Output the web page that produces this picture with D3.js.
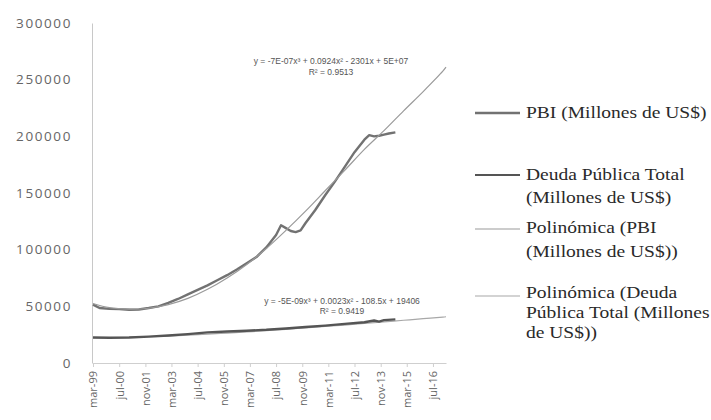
<!DOCTYPE html>
<html>
<head>
<meta charset="utf-8">
<script src="https://cdn.jsdelivr.net/npm/d3@7"></script>
<style>
  html, body { margin: 0; padding: 0; background: #fff; }
  svg { display: block; }
</style>
</head>
<body>
<svg id="chart" width="711" height="420"></svg>
<script>
// PBI and public debt, millions of US$ (sampled months)
const pbiDates = ["1999-03","1999-07","2000-01","2000-07","2001-01","2001-07","2002-01","2002-07",
  "2003-01","2003-07","2004-01","2004-07","2005-01","2005-07","2006-01","2006-07","2007-01","2007-07",
  "2008-01","2008-07","2008-10","2009-01","2009-04","2009-07","2009-10","2010-01","2010-07","2011-01",
  "2011-07","2012-01","2012-07","2013-01","2013-04","2013-07","2013-10","2014-01","2014-04","2014-08"];
const pbiValues = [51500,48500,47800,47500,47000,47200,48500,50000,
  53000,56500,60500,64500,68500,73000,77500,82500,88000,93500,
  102000,113000,121500,119000,116500,115500,117000,123500,135000,148000,
  160000,173000,186000,197000,201000,200000,200500,201500,202500,203500];

const debtDates = ["1999-03","2000-01","2001-01","2002-01","2003-01","2004-01","2005-01","2006-01",
  "2007-01","2008-01","2009-01","2010-01","2011-01","2012-01","2013-01","2013-07","2013-10","2014-01","2014-08"];
const debtValues = [22500,22300,22500,23300,24300,25500,27000,27800,
  28500,29300,30500,31800,33000,34500,36000,37500,36500,37800,38500];

// Polynomial trend curves, extended forward to 2017
const trendDates = ["1999-03","2000-01","2001-01","2002-01","2003-01","2004-01","2005-01","2006-01",
  "2007-01","2008-01","2009-01","2010-01","2011-01","2012-01","2013-01","2014-01","2015-01","2016-01",
  "2017-01","2017-03"];
const pbiTrend = [52500,48800,47500,48300,51500,57000,65000,75000,
  87000,101000,117000,134000,152000,170000,188500,205000,222500,239500,
  257500,261000];
const debtTrend = [22300,22400,22700,23200,23800,24600,25400,26400,
  27400,28500,29700,30900,32200,33500,34900,36300,37700,39100,
  40500,40800];

const xTickLabels = ["mar-99","jul-00","nov-01","mar-03","jul-04","nov-05","mar-07","jul-08",
  "nov-09","mar-11","jul-12","nov-13","mar-15","jul-16"];
const yTickValues = [0,50000,100000,150000,200000,250000,300000];

const legendItems = [
  ["PBI (Millones de US$)"],
  ["Deuda Pública Total","(Millones de US$)"],
  ["Polinómica (PBI","(Millones de US$))"],
  ["Polinómica (Deuda","Pública Total (Millones","de US$))"]
];
const pbiEquation = ["y = -7E-07x³ + 0.0924x² - 2301x + 5E+07", "R² = 0.9513"];
const debtEquation = ["y = -5E-09x³ + 0.0023x² - 108.5x + 19406", "R² = 0.9419"];

const months = ["ene","feb","mar","abr","may","jun","jul","ago","sep","oct","nov","dic"];
const parseYM = s => { const [y, m] = s.split("-").map(Number); return new Date(y, m - 1, 1); };
const parseLabel = s => { const [mo, yy] = s.split("-"); return new Date(2000 + (+yy > 50 ? +yy - 100 : +yy), months.indexOf(mo), 1); };

const svg = d3.select("#chart");

const x = d3.scaleTime()
  .domain([new Date(1999, 2, 1), new Date(2017, 2, 1)])
  .range([93, 446]);
const y = d3.scaleLinear().domain([0, 300000]).range([363, 23]);

// Y axis
const yAxis = svg.append("g")
  .attr("transform", "translate(92,0)")
  .call(d3.axisLeft(y).tickValues(yTickValues).tickSize(0).tickPadding(20).tickFormat(d3.format("d")));
yAxis.select(".domain").attr("stroke", "#c8c8c8");
yAxis.selectAll("text")
  .attr("font-family", "Open Sans, sans-serif")
  .attr("font-size", 13.5)
  .attr("letter-spacing", 1.6)
  .attr("fill", "#666");

// X axis
const xAxis = svg.append("g")
  .attr("transform", "translate(0,363)")
  .call(d3.axisBottom(x).tickValues(xTickLabels.map(parseLabel))
    .tickSize(4).tickSizeOuter(0)
    .tickFormat((d, i) => xTickLabels[i]));
xAxis.select(".domain").attr("stroke", "#cfcfcf");
xAxis.selectAll(".tick line").attr("stroke", "#cfcfcf");
xAxis.selectAll("text")
  .attr("font-family", "Open Sans, sans-serif")
  .attr("font-size", 11)
  .attr("fill", "#666")
  .attr("text-anchor", "end")
  .attr("dy", "0.35em")
  .attr("transform", "translate(0,8) rotate(-90)")
  .attr("x", 0)
  .attr("y", 0);

// Lines
const line = d3.line().x(d => x(d[0])).y(d => y(d[1]));
const smooth = d3.line().x(d => x(d[0])).y(d => y(d[1])).curve(d3.curveCatmullRom);

const zip = (dates, vals) => dates.map((d, i) => [parseYM(d), vals[i]]);

svg.append("path").datum(zip(trendDates, debtTrend))
  .attr("d", smooth).attr("fill", "none").attr("stroke", "#a8a8a8").attr("stroke-width", 1.2);
svg.append("path").datum(zip(debtDates, debtValues))
  .attr("d", line).attr("fill", "none").attr("stroke", "#555").attr("stroke-width", 2.4)
  .attr("stroke-linejoin", "round");
svg.append("path").datum(zip(pbiDates, pbiValues))
  .attr("d", line).attr("fill", "none").attr("stroke", "#727272").attr("stroke-width", 2.4)
  .attr("stroke-linejoin", "round");
svg.append("path").datum(zip(trendDates, pbiTrend))
  .attr("d", smooth).attr("fill", "none").attr("stroke", "#9a9a9a").attr("stroke-width", 1.2);

// Trend equations
const eqFont = "Liberation Sans, Arial, sans-serif";
svg.append("g").selectAll("text").data(pbiEquation).join("text")
  .attr("x", 331).attr("y", (d, i) => 64 + i * 11)
  .attr("text-anchor", "middle")
  .attr("font-family", eqFont).attr("font-size", 8.5).attr("fill", "#555")
  .text(d => d);
svg.append("g").selectAll("text").data(debtEquation).join("text")
  .attr("x", 342).attr("y", (d, i) => 304 + i * 10)
  .attr("text-anchor", "middle")
  .attr("font-family", eqFont).attr("font-size", 8.5).attr("fill", "#555")
  .text(d => d);

// Legend (wide serif lettering)
const legendY = [113, 175, 229, 296];
const legendTextY = [[118], [180, 203], [233, 257], [298, 318, 338]];
const legendStroke = ["#727272", "#555", "#9a9a9a", "#a8a8a8"];
const legendWidth = [2.6, 2.2, 1.2, 1.2];
const legend = svg.append("g");
legendItems.forEach((lines, i) => {
  legend.append("line")
    .attr("x1", 475).attr("x2", 520)
    .attr("y1", legendY[i]).attr("y2", legendY[i])
    .attr("stroke", legendStroke[i]).attr("stroke-width", legendWidth[i]);
  lines.forEach((t, j) => {
    legend.append("text")
      .attr("transform", `translate(526,${legendTextY[i][j]}) scale(1.22,1)`)
      .attr("font-family", "Liberation Serif, Times New Roman, serif")
      .attr("font-size", 16)
      .attr("fill", "#2a2a2a")
      .text(t);
  });
});
</script>
</body>
</html>
